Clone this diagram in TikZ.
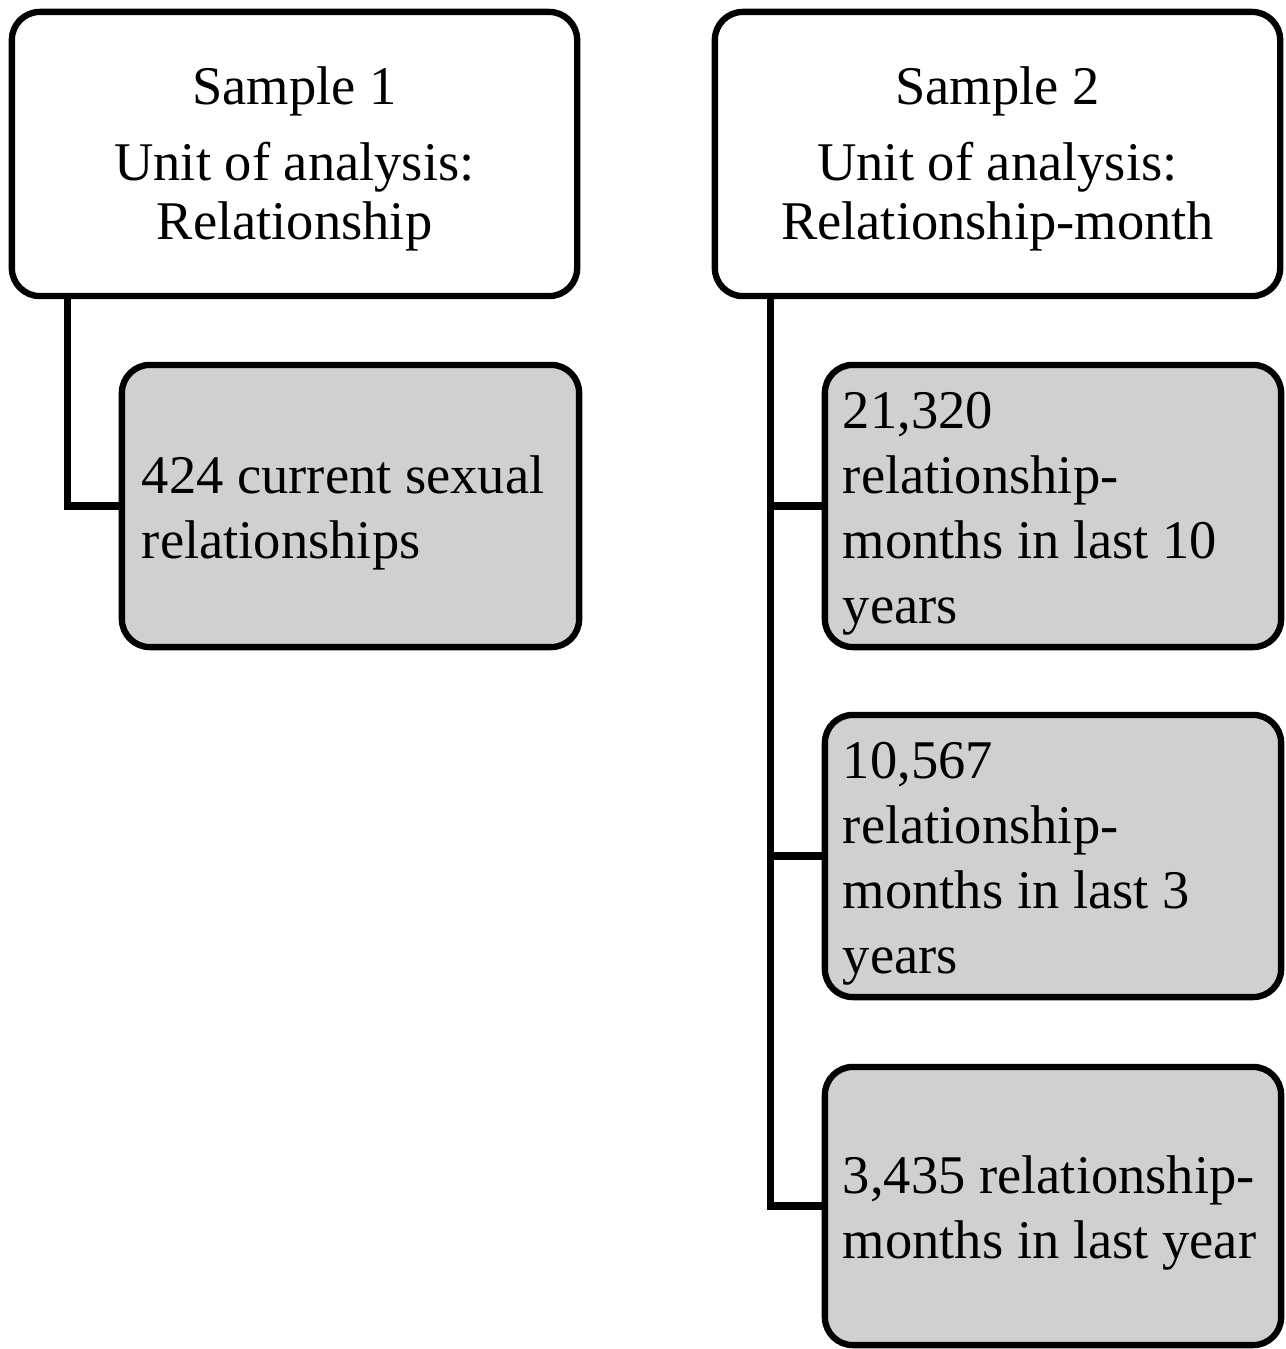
\documentclass[tikz,border=0pt]{standalone}
\usepackage{fontspec}
\setmainfont{Liberation Serif}
\usepackage{tikz}
\usetikzlibrary{calc,positioning}

\definecolor{boxgray}{RGB}{208,208,208}

\tikzset{
  headbox/.style={draw,line width=1.8pt,rounded corners=0.28cm,fill=white,
    minimum width=5.65cm,minimum height=2.84cm,text width=5.3cm,align=flush center,
    execute at begin node={\rule{0pt}{13.4pt}},
    font=\fontsize{15.5}{16.8}\selectfont},
  countbox/.style={draw,line width=1.8pt,rounded corners=0.28cm,fill=boxgray,
    minimum height=2.82cm,text width=4.2cm,align=flush left,inner xsep=0.18cm,
    execute at begin node={\rule{0pt}{14.5pt}},
    font=\fontsize{15.5}{18.5}\selectfont},
  branch/.style={line width=2pt}
}

\begin{document}
\begin{tikzpicture}[x=0.01cm,y=-0.01cm]
  \useasboundingbox (0,0) rectangle (1286,1349);

  %% Building the two sample boxes
  \node[headbox] (S1) at (294.5,154) {Sample 1\\[0.17cm]Unit of analysis:\\Relationship};
  \node[headbox] (S2) at (997.5,154) {Sample 2\\[0.17cm]Unit of analysis:\\Relationship-month};

  %% Boxes with the counts
  \node[countbox,minimum width=4.53cm,text width=4.17cm,inner xsep=0.20cm] (N1) at (350.5,506)
    {424 current sexual\\relationships};
  \node[countbox,minimum width=4.52cm] (R1) at (1053,506)
    {21,320\\relationship-\\months in last 10\\years};
  \node[countbox,minimum width=4.52cm] (R2) at (1053,856)
    {10,567\\relationship-\\months in last 3\\years};
  \node[countbox,minimum width=4.52cm,minimum height=2.78cm] (R3) at (1053,1206)
    {3,435 relationship-\\months in last year};

  %% Drawing the branches
  \coordinate (T1) at ($(S1.south west)+(59,0)$);
  \coordinate (T2) at ($(S2.south west)+(59,0)$);
  \draw[branch] (T1) |- (N1.west);
  \foreach \r in {R1,R2,R3}
  {
    \draw[branch] (T2) |- (\r.west);
  }
\end{tikzpicture}
\end{document}
